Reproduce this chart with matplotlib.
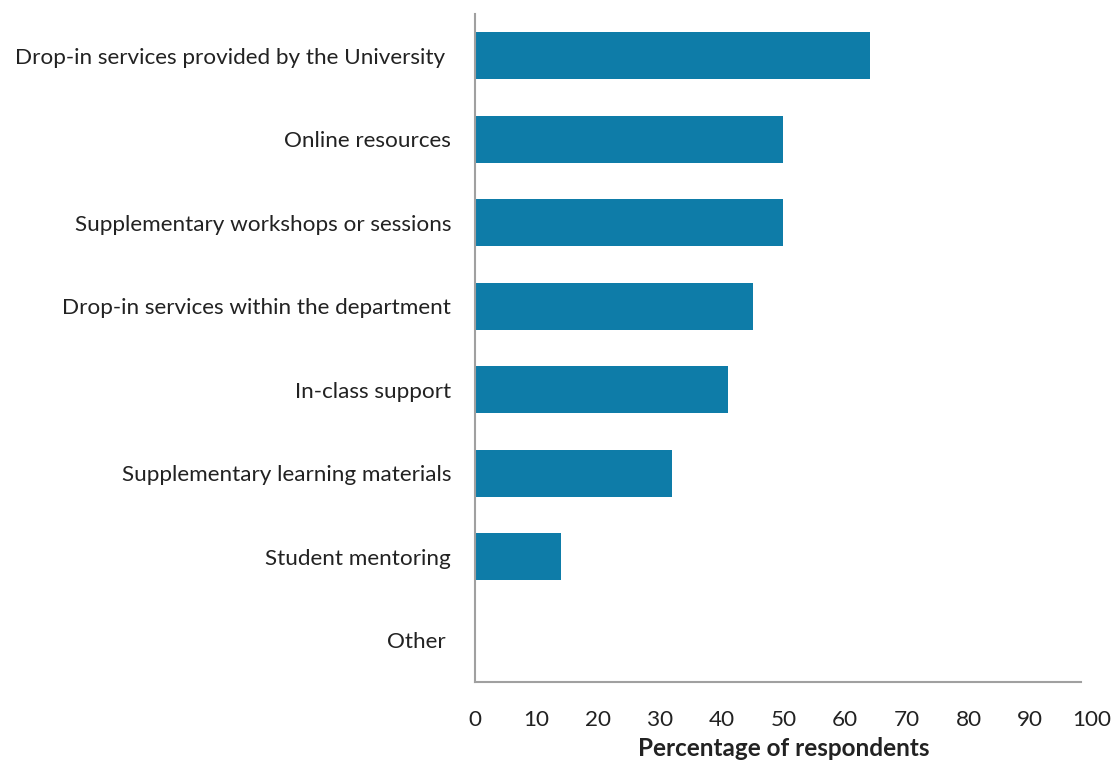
import matplotlib.pyplot as plt

plt.rcParams['font.family'] = ['Lato', 'DejaVu Sans']

# survey responses, top to bottom
categories = [
    "Drop-in services provided by the University ",
    "Online resources",
    "Supplementary workshops or sessions",
    "Drop-in services within the department",
    "In-class support",
    "Supplementary learning materials",
    "Student mentoring",
    "Other ",
]
percentages = [64, 50, 50, 45, 41, 32, 14, 0]
xticks = [0, 10, 20, 30, 40, 50, 60, 70, 80, 90, 100]

fig = plt.figure(figsize=(11.12, 7.6), dpi=100)
ax = fig.add_axes([0.427, 0.1026, 0.555, 0.879])

ypos = list(range(len(categories)))
ax.barh(ypos, percentages, height=0.56, color='#0e7ca8')

ax.set_ylim(len(categories) - 0.5, -0.5)
ax.set_xlim(0, 100)
ax.set_yticks(ypos)
ax.set_yticklabels(categories, fontsize=16.2, color='#222222')
ax.set_xticks(xticks)
ax.set_xticklabels([str(v) for v in xticks], fontsize=16.2, color='#222222')
ax.tick_params(axis='y', length=0, pad=17)
ax.tick_params(axis='x', length=0, pad=20)
ax.set_xlabel('Percentage of respondents', fontsize=17.5, fontweight='bold',
              color='#222222', labelpad=5)

for side in ('top', 'right'):
    ax.spines[side].set_visible(False)
for side in ('left', 'bottom'):
    ax.spines[side].set_color('#a0a0a0')
    ax.spines[side].set_linewidth(1.5)
ax.spines['bottom'].set_bounds(0, 98.3)

fig.savefig('out.png', dpi=100)
